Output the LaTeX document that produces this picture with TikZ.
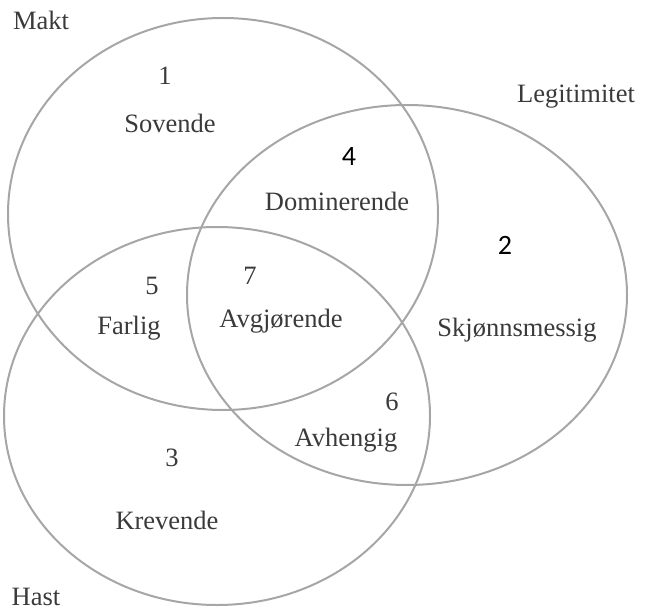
\documentclass[tikz,border=0pt]{standalone}
\usepackage{fontspec}
\setmainfont{Liberation Serif}
\newfontfamily\numfont{Carlito}
\begin{document}
\begin{tikzpicture}[x=1pt,y=-1pt,
  setring/.style={draw=ringgray,line width=2pt},
  lbl/.style={text=txtgray,font=\fontsize{26.5}{30}\selectfont,inner sep=0pt},
  numsans/.style={text=black,font=\numfont\fontsize{28}{32}\selectfont,inner sep=0pt}]
\definecolor{ringgray}{HTML}{A6A6A6}
\definecolor{txtgray}{HTML}{3A3A3A}
\useasboundingbox (0,0) rectangle (647,612);
% the three sets
\draw[setring] (223,214) ellipse [x radius=215,y radius=196];
\draw[setring] (407,295) ellipse [x radius=220,y radius=190];
\draw[setring] (217,416) ellipse [x radius=213,y radius=189];
% set names
\node[lbl] (makt) at (41,20) {Makt};
\node[lbl] (legit) at (576,97) {Legitimitet};
\node[lbl] (hast) at (36,597) {Hast};
% regions
\node[lbl] (n1) at (165,76) {1};
\node[lbl] (sov) at (170,123) {Sovende};
\node[numsans] (n4) at (349,157) {4};
\node[lbl] (dom) at (337,201) {Dominerende};
\node[numsans] (n2) at (505,245) {2};
\node[lbl] (skj) at (517,330) {Skjønnsmessig};
\node[lbl] (n5) at (152,286) {5};
\node[lbl] (far) at (129,328) {Farlig};
\node[lbl] (n7) at (250,276) {7};
\node[lbl] (avg) at (281,321) {Avgjørende};
\node[lbl] (n6) at (392,402) {6};
\node[lbl] (avh) at (346,440) {Avhengig};
\node[lbl] (n3) at (172,458) {3};
\node[lbl] (kre) at (167,520) {Krevende};
\end{tikzpicture}
\end{document}
